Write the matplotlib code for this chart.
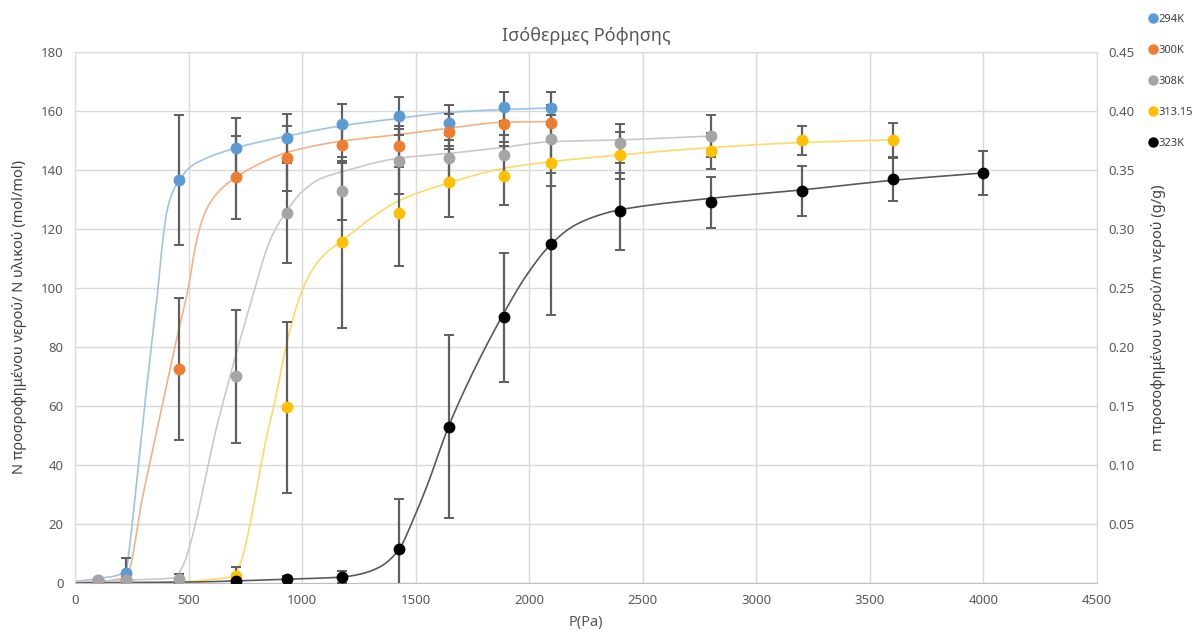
import numpy as np
import matplotlib
matplotlib.use('Agg')
import matplotlib.pyplot as plt
from matplotlib.lines import Line2D

plt.rcParams['font.family'] = ['Noto Sans', 'DejaVu Sans']

# measured points (P in Pa, N in mol/mol) with error bars
p_294 = [100, 225, 460, 710, 935, 1175, 1425, 1645, 1890, 2095]
n_294 = [1.0, 3.5, 136.5, 147.5, 151, 155.5, 158.3, 156, 161.5, 161]
e_294 = [0.5, 5, 22, 10, 8, 7, 6.5, 6, 5, 5.5]

p_300 = [100, 225, 460, 710, 935, 1175, 1425, 1645, 1890, 2095]
n_300 = [0.3, 1.0, 72.5, 137.5, 144, 148.5, 148, 153, 155.5, 156]
e_300 = [0.3, 1, 24, 14, 11, 6, 7, 6, 6, 6]

p_308 = [100, 225, 460, 710, 935, 1175, 1425, 1645, 1890, 2095, 2400, 2800]
n_308 = [1.0, 1.0, 1.5, 70, 125.5, 133, 143, 144, 145, 150.5, 149, 151.5]
e_308 = [0.5, 0.5, 1.5, 22.5, 17, 10, 11, 8, 7, 8, 6.5, 7]

p_313 = [710, 935, 1175, 1425, 1645, 1890, 2095, 2400, 2800, 3200, 3600]
n_313 = [2.5, 59.5, 115.5, 125.5, 136, 138, 142.5, 145, 146.5, 150, 150]
e_313 = [3, 29, 29, 18, 12, 10, 8, 8, 6, 5, 6]

p_323 = [710, 935, 1175, 1425, 1645, 1890, 2095, 2400, 2800, 3200, 3600, 4000]
n_323 = [0.8, 1.5, 2, 11.5, 53, 90, 115, 126, 129, 133, 137, 139]
e_323 = [0.5, 0.8, 2, 17, 31, 22, 24, 13, 8.5, 8.5, 7.5, 7.5]

# fitted isotherm lines
fp_294 = [0, 100, 225, 240, 270, 300, 330, 366, 385, 405, 430, 460, 500, 550, 710, 935, 1175, 1425, 1645, 1890, 2095]
fn_294 = [0.5, 1.5, 4, 12, 33, 55, 76, 100, 115, 126, 132.5, 136.5, 140.5, 143, 147.5, 151.5, 155, 157.5, 159.5, 160.5, 161]

fp_300 = [0, 100, 225, 300, 370, 440, 499, 530, 560, 600, 650, 710, 749, 881, 935, 1175, 1425, 1645, 1890, 2095]
fn_300 = [0.2, 0.5, 2, 30, 55, 80, 100, 114, 123, 129.5, 134, 137.6, 139.5, 144.5, 146, 149.8, 152, 154.1, 156.2, 156.4]

fp_308 = [0, 100, 225, 440, 470, 631, 718, 793, 830, 870, 935, 998, 1080, 1175, 1425, 1645, 1890, 2095, 2400, 2800]
fn_308 = [0.3, 0.6, 1, 1.8, 5, 55, 80, 100, 110, 118, 126.4, 132.5, 137, 139.4, 144, 145.6, 147.7, 149.6, 150.2, 151.5]

fp_313 = [0, 225, 460, 600, 700, 720, 851, 876, 929, 965, 1000, 1040, 1094, 1175, 1425, 1645, 1890, 2095, 2400, 2800, 3200, 3600]
fn_313 = [-0.7, -0.4, 0.3, 1.2, 2.5, 5, 52, 60, 80, 91, 99, 105.5, 111, 116, 129.5, 135.6, 140.6, 142.8, 145.1, 147.6, 149.3, 150.2]

fp_323 = [0, 500, 710, 935, 1175, 1256, 1344, 1425, 1489, 1549, 1645, 1725, 1885, 1990, 2092, 2195, 2300, 2392, 2800, 3194, 3600, 4000]
fn_323 = [0, 0.3, 0.7, 1.3, 2, 3, 5.5, 11.2, 21.4, 32.7, 53, 67, 91, 104.5, 114.5, 121, 124.5, 126.4, 130.4, 133.2, 136.5, 139]

labels = ['294K', '300K', '308K', '313.15', '323K']
colors = ['#5B9BD5', '#ED7D31', '#A5A5A5', '#FFC000', '#000000']
line_colors = ['#9DC3E6', '#F4B183', '#C9C9C9', '#FFD966', '#595959']


def pchip(x, y, n=600):
    x = np.asarray(x, float)
    y = np.asarray(y, float)
    h = np.diff(x)
    d = np.diff(y) / h
    m = np.zeros_like(y)
    m[0] = d[0]
    m[-1] = d[-1]
    for k in range(1, len(x) - 1):
        if d[k - 1] * d[k] <= 0:
            m[k] = 0
        else:
            w1 = 2 * h[k] + h[k - 1]
            w2 = h[k] + 2 * h[k - 1]
            m[k] = (w1 + w2) / (w1 / d[k - 1] + w2 / d[k])
    xs = np.linspace(x[0], x[-1], n)
    idx = np.clip(np.searchsorted(x, xs) - 1, 0, len(x) - 2)
    t = (xs - x[idx]) / h[idx]
    h00 = 2 * t**3 - 3 * t**2 + 1
    h10 = t**3 - 2 * t**2 + t
    h01 = -2 * t**3 + 3 * t**2
    h11 = t**3 - t**2
    ys = h00 * y[idx] + h10 * h[idx] * m[idx] + h01 * y[idx + 1] + h11 * h[idx] * m[idx + 1]
    return xs, ys


fig = plt.figure(figsize=(12.01, 6.37), dpi=100)
ax = fig.add_axes([0.0624, 0.0848, 0.851, 0.8336])

fits = [(fp_294, fn_294), (fp_300, fn_300), (fp_308, fn_308), (fp_313, fn_313), (fp_323, fn_323)]
pts = [(p_294, n_294, e_294), (p_300, n_300, e_300), (p_308, n_308, e_308),
       (p_313, n_313, e_313), (p_323, n_323, e_323)]

for (fx, fy), lc in zip(fits, line_colors):
    xs, ys = pchip(fx, fy)
    ax.plot(xs, ys, color=lc, lw=1.2, zorder=2)

for (px, py, pe), c in zip(pts, colors):
    ax.errorbar(px, py, yerr=pe, fmt='none', ecolor='#5f5f5f', elinewidth=1.6,
                capsize=3.5, capthick=1.4, zorder=3)
for (px, py, pe), c in zip(pts, colors):
    ax.plot(px, py, 'o', color=c, markersize=7.5, zorder=4)

ax.set_xlim(0, 4500)
ax.set_ylim(0, 180)
ax.set_xticks(np.arange(0, 4501, 500))
ax.set_yticks(np.arange(0, 181, 20))
ax.grid(True, color='#D9D9D9', lw=1)
ax.set_axisbelow(True)
for s in ['top', 'right', 'left']:
    ax.spines[s].set_color('#D9D9D9')
ax.spines['bottom'].set_color('#BFBFBF')
ax.tick_params(length=0, colors='#595959', labelsize=9.5, pad=8)
ax.set_xlabel('P(Pa)', color='#595959', fontsize=10.5, labelpad=6)
ax.set_ylabel('N προσροφημένου νερού/ N υλικού (mol/mol)', color='#404040', fontsize=10.5, labelpad=10)

ax2 = ax.twinx()
ax2.set_ylim(0, 0.45)
ax2.set_yticks(np.arange(0.05, 0.451, 0.05))
ax2.set_yticklabels(['%.2f' % v for v in np.arange(0.05, 0.451, 0.05)])
ax2.tick_params(length=0, colors='#595959', labelsize=9.5, pad=8)
for s in ax2.spines.values():
    s.set_visible(False)
ax2.set_ylabel('m προσοφημένου νερού/m νερού (g/g)', color='#404040', fontsize=10.5, labelpad=12)

ax.set_title('Ισόθερμες Ρόφησης', color='#595959', fontsize=13, pad=8)

handles = [Line2D([], [], ls='none', marker='o', color=c, markersize=6.5) for c in colors]
fig.legend(handles, labels, loc='upper left', bbox_to_anchor=(0.949, 0.99), frameon=False,
           fontsize=8, labelspacing=1.8, handletextpad=0.05, handlelength=0.9,
           borderpad=0.2, labelcolor='#404040')

fig.savefig('out.png', dpi=100)
